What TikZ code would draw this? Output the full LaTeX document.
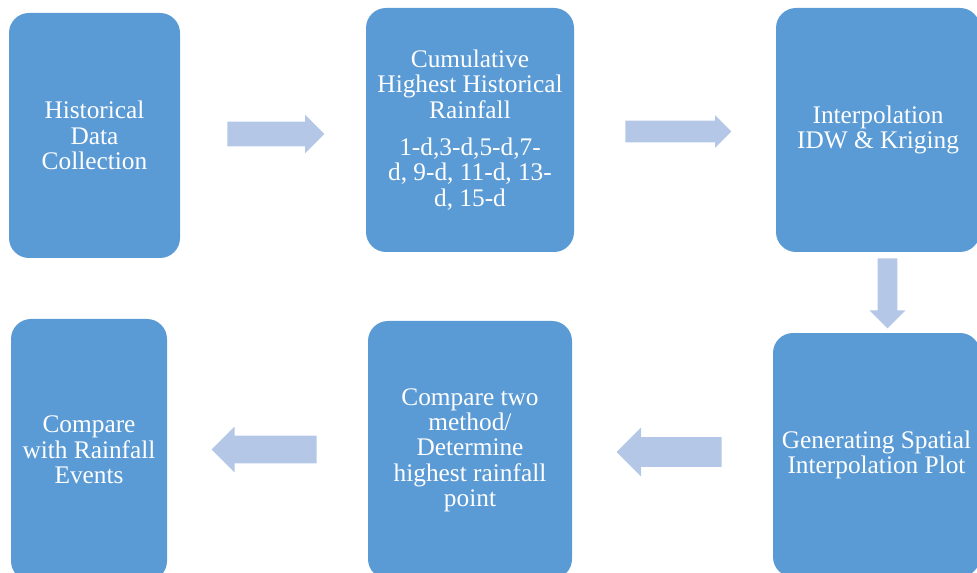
\documentclass[tikz,border=0pt]{standalone}
\usepackage{fontspec}
\setmainfont{Liberation Serif}
\usetikzlibrary{shapes.arrows, positioning}
\definecolor{rainblue}{HTML}{5B9BD5}
\definecolor{rainlight}{HTML}{B4C7E7}

\begin{document}
\begin{tikzpicture}[x=0.75pt, y=-0.75pt,
  stage/.style={fill=rainblue, rounded corners=15pt, text=white, align=center,
    font=\fontsize{19}{19}\selectfont, inner sep=0pt},
  flow/.style={single arrow, fill=rainlight, draw=none, inner xsep=0pt,
    single arrow tip angle=90, anchor=tail}
]
  \useasboundingbox (0,0) rectangle (977,573);
  \clip (0,0) rectangle (977,573);

  % Top row
  \node[stage, minimum width=128.25pt, minimum height=183.75pt] (collect) at (94.5,135.5)
    {Historical\\Data\\Collection};
  \node[stage, minimum width=156pt, minimum height=183pt] (cumul) at (470,130)
    {Cumulative\\Highest Historical\\Rainfall\\[9pt]1-d,3-d,5-d,7-\\d, 9-d, 11-d, 13-\\d, 15-d};
  \node[stage, minimum width=153pt, minimum height=183pt] (interp) at (878,130)
    {Interpolation\\IDW \& Kriging};

  % Bottom row
  \node[stage, minimum width=155.25pt, minimum height=183pt] (spatial) at (876.5,455)
    {Generating Spatial\\Interpolation Plot};
  \node[stage, minimum width=153pt, minimum height=193.5pt] (determine) at (470,450)
    {Compare two\\method/\\Determine\\highest rainfall\\point};
  \node[stage, minimum width=117pt, minimum height=196.5pt] (events) at (89,450)
    {Compare\\with Rainfall\\Events};

  % Block arrows
  \node[flow, minimum height=72.75pt, inner ysep=9pt, single arrow head extend=5.25pt]
    (a1) at (227,134) {};
  \node[flow, minimum height=79.5pt, inner ysep=7.875pt, single arrow head extend=4.125pt]
    (a2) at (625,131.5) {};
  \node[flow, minimum height=52.5pt, inner xsep=7.125pt, inner ysep=0pt,
    single arrow head extend=6pt, shape border rotate=270] (a3) at (887.5,258) {};
  \node[flow, minimum height=78.75pt, inner ysep=10.875pt, single arrow head extend=7.125pt,
    shape border rotate=180] (a4) at (722,452) {};
  \node[flow, minimum height=78.75pt, inner ysep=10.125pt, single arrow head extend=6.75pt,
    shape border rotate=180] (a5) at (317,449.5) {};
\end{tikzpicture}
\end{document}
